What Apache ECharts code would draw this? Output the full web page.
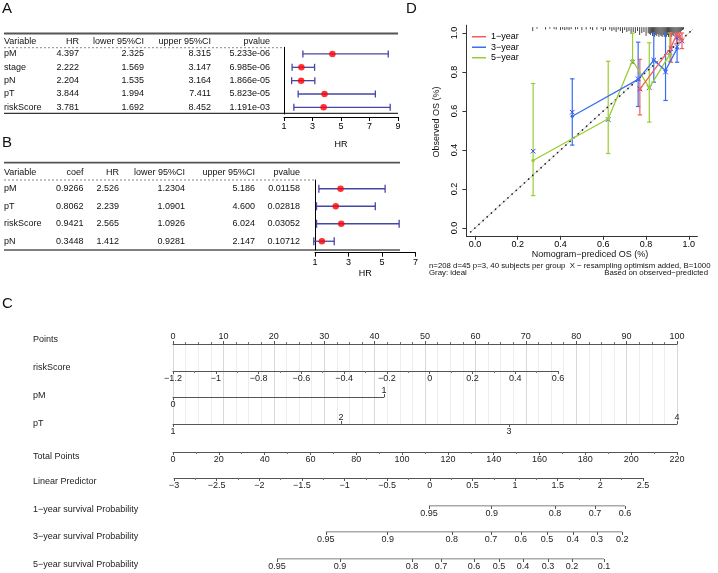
<!DOCTYPE html>
<html><head><meta charset="utf-8">
<script src="https://cdn.jsdelivr.net/npm/echarts@6.0.0/dist/echarts.min.js"></script>
<style>html,body{margin:0;padding:0;background:#fff;}#c{width:718px;height:573px;}</style>
</head><body><div id="c"></div>
<script>
// ===== Panel A : univariate Cox =====
const varsA = ['pM','stage','pN','pT','riskScore'];
const hrA = [4.397,2.222,2.204,3.844,3.781];
const lowerA = [2.325,1.569,1.535,1.994,1.692];
const upperA = [8.315,3.147,3.164,7.411,8.452];
const pvalA = ['5.233e-06','6.985e-06','1.866e-05','5.823e-05','1.191e-03'];
const hrTicksA = [1,3,5,7,9];
// ===== Panel B : multivariate Cox =====
const varsB = ['pM','pT','riskScore','pN'];
const coefB = [0.9266,0.8062,0.9421,0.3448];
const hrB = [2.526,2.239,2.565,1.412];
const lowerB = [1.2304,1.0901,1.0926,0.9281];
const upperB = [5.186,4.600,6.024,2.147];
const pvalB = [0.01158,0.02818,0.03052,0.10712];
const hrTicksB = [1,3,5,7];
// ===== Panel C : nomogram =====
const nomoRows = ['Points','riskScore','pM','pT','Total Points','Linear Predictor',
  '1\u2212year survival Probability','3\u2212year survival Probability','5\u2212year survival Probability'];
const pointsRange = [0,100];
const riskScoreRange = [-1.2,0.6];
const pMBelow = [0], pMAbove = [1];
const pTBelow = [1,3], pTAbove = [2,4];
const totalPointsRange = [0,220];
const lpRange = [-3,2.5];
const surv1Labels = [0.95,0.9,0.8,0.7,0.6];
const surv1Pos = [111.7,139.1,166.7,184.2,197.3];          // in total points
const surv3Labels = [0.95,0.9,0.8,0.7,0.6,0.5,0.4,0.3,0.2];
const surv3Pos = [66.7,93.7,121.7,138.8,151.8,163.3,174.5,185.0,196.1];
const surv5Labels = [0.95,0.9,0.8,0.7,0.6,0.5,0.4,0.3,0.2,0.1];
const surv5Pos = [45.4,72.9,104.3,117.0,131.4,142.3,152.8,163.7,174.2,188.1];
// ===== Panel D : calibration =====
const calTicks = [0,0.2,0.4,0.6,0.8,1.0];
const idealLine = [[-0.02,-0.02],[1.02,1.02]];
const pred1 = [0.771,0.916,0.942,0.955,0.968];
const obs1  = [0.712,0.925,0.990,0.985,0.965];
const lo1   = [0.580,0.850,0.945,0.950,0.920];
const up1   = [0.865,1.000,1.000,1.000,1.000];
const cor1  = [0.713,0.920,0.975,0.980,0.960];
const pred3 = [0.455,0.763,0.836,0.891,0.945];
const obs3  = [0.573,0.762,0.860,0.808,0.920];
const lo3   = [0.425,0.623,0.748,0.654,0.850];
const up3   = [0.765,0.953,1.000,1.000,1.000];
const cor3  = [0.594,0.765,0.861,0.800,0.930];
const pred5 = [0.272,0.623,0.737,0.815,0.911];
const obs5  = [0.346,0.560,0.859,0.719,0.890];
const lo5   = [0.166,0.382,0.845,0.543,0.855];
const up5   = [0.741,0.855,1.000,0.950,1.000];
const cor5  = [0.394,0.556,0.850,0.720,0.900];
const rugTop = 1.03;
const rugSpikes = [[0.27,0.020],[0.29,0.008],[0.33,0.012],[0.35,0.008],[0.37,0.010],[0.38,0.012],[0.40,0.015],
 [0.41,0.012],[0.42,0.015],[0.43,0.012],[0.44,0.015],[0.45,0.010],[0.47,0.012],[0.48,0.010],[0.50,0.015],
 [0.52,0.012],[0.54,0.010],[0.55,0.015],[0.57,0.012],[0.59,0.010],[0.60,0.020],[0.61,0.015],[0.63,0.012],
 [0.64,0.020],[0.65,0.015],[0.66,0.025],[0.67,0.012],[0.68,0.020],[0.69,0.030],[0.70,0.015],[0.71,0.025],
 [0.72,0.020],[0.73,0.035],[0.74,0.025],[0.75,0.030],[0.76,0.020],[0.77,0.040],[0.78,0.030],[0.79,0.025],
 [0.80,0.045],[0.81,0.030],[0.815,0.035],[0.82,0.040],[0.825,0.030],[0.83,0.045],[0.835,0.035],[0.84,0.050],
 [0.845,0.040],[0.85,0.045],[0.855,0.035],[0.86,0.050],[0.865,0.040],[0.87,0.045],[0.875,0.050],[0.88,0.040],
 [0.885,0.050],[0.89,0.045],[0.895,0.050],[0.90,0.040],[0.905,0.050],[0.91,0.045],[0.915,0.035],[0.92,0.050],
 [0.925,0.040],[0.93,0.045],[0.935,0.030],[0.94,0.040],[0.945,0.035],[0.95,0.030],[0.955,0.025],[0.96,0.030],
 [0.965,0.020],[0.97,0.015],[0.975,0.012]];

const FONT = '"Liberation Sans", Arial, Helvetica, sans-serif';
const RED='#f0605a', BLUE='#3a6ef2', GREEN='#9acd32', XBLUE='#3344ee', CI='#4646a8';

const chart = echarts.init(document.getElementById('c'));

// ---------- graphics (tables, labels) ----------
const G = [];
function txt(x,y,s,o){ o=o||{}; G.push({type:'text', x:x, y:y, rotation:o.rot||0, silent:true,
  style:{text:s, fontSize:o.size||9, fontFamily:FONT, fill:o.color||'#111',
    textAlign:o.align||'left', align:o.align||'left', textVerticalAlign:'middle', verticalAlign:'middle'}}); }
function hl(x1,x2,y,o){ o=o||{}; G.push({type:'line', silent:true, shape:{x1:x1,y1:y,x2:x2,y2:y},
  style:{stroke:o.color||'#000', lineWidth:o.w||1, lineDash:o.dash||null}}); }

// panel letters
txt(2,9,'A',{size:15}); txt(2,143,'B',{size:15}); txt(2,304,'C',{size:15}); txt(406,9,'D',{size:15});

// table A
hl(4,398,33.5,{color:'#555',w:1.8});
hl(4,284,47.7,{color:'#888',dash:[2,2]});
hl(4,398,113.3,{color:'#000',w:1});
const colA = [79,144,211,270];
txt(4,41.7,'Variable'); txt(colA[0],41.7,'HR',{align:'right'});
txt(colA[1],41.7,'lower 95%CI',{align:'right'}); txt(colA[2],41.7,'upper 95%CI',{align:'right'});
txt(colA[3],41.7,'pvalue',{align:'right'});
varsA.forEach((v,i)=>{ const y=54+13.33*i;
  txt(4,y,v); txt(colA[0],y,hrA[i].toFixed(3),{align:'right'});
  txt(colA[1],y,lowerA[i].toFixed(3),{align:'right'}); txt(colA[2],y,upperA[i].toFixed(3),{align:'right'});
  txt(colA[3],y,pvalA[i],{align:'right'}); });

// table B
hl(4,400,162.7,{color:'#555',w:1.8});
hl(4,315,180,{color:'#888',dash:[2,2]});
hl(4,400,250,{color:'#000',w:1});
const colB = [83.5,119,185,255,300];
txt(4,172.3,'Variable'); txt(colB[0],172.3,'coef',{align:'right'}); txt(colB[1],172.3,'HR',{align:'right'});
txt(colB[2],172.3,'lower 95%CI',{align:'right'}); txt(colB[3],172.3,'upper 95%CI',{align:'right'});
txt(colB[4],172.3,'pvalue',{align:'right'});
varsB.forEach((v,i)=>{ const y=188.75+17.5*i;
  txt(4,y,v); txt(colB[0],y,coefB[i].toFixed(4),{align:'right'}); txt(colB[1],y,hrB[i].toFixed(3),{align:'right'});
  txt(colB[2],y,lowerB[i].toFixed(4),{align:'right'}); txt(colB[3],y,upperB[i].toFixed(3),{align:'right'});
  txt(colB[4],y,pvalB[i].toFixed(5),{align:'right'}); });

// nomogram row labels
const rowLabelY = [340,368,396,424,457,482,510,537,565];
nomoRows.forEach((r,i)=>txt(33,rowLabelY[i],r,{color:'#222'}));

// calibration texts
txt(437,122,'Observed OS (%)',{rot:Math.PI/2,align:'center'});
txt(590,255,'Nomogram\u2212prediced OS (%)',{align:'center'});
txt(429,266,'n=208 d=45 p=3, 40 subjects per group  X \u2212 resampling optimism added, B=1000',{size:7.8});
txt(429,272.5,'Gray: ideal',{size:7.8});
txt(708,272.5,'Based on observed\u2212predicted',{size:7.8,align:'right'});

// ---------- helpers ----------
const fmtNum = v => { const a = parseFloat(Math.abs(v).toFixed(3)); return (v < -1e-9 ? '\u2212' : '') + String(a); };
function lookupFmt(pos, labels){ return function(v){ let k=0, d=1e9; pos.forEach((p,i)=>{ if(Math.abs(p-v)<d){d=Math.abs(p-v);k=i;} }); return String(labels[k]); }; }
function ciRender(color, cap){ return function(p, api){
  const y=api.value(2), a=api.coord([api.value(0),y]), b=api.coord([api.value(1),y]);
  const s={stroke:color,lineWidth:1.3};
  return {type:'group',children:[
    {type:'line',shape:{x1:a[0],y1:a[1],x2:b[0],y2:b[1]},style:s},
    {type:'line',shape:{x1:a[0],y1:a[1]-cap,x2:a[0],y2:a[1]+cap},style:s},
    {type:'line',shape:{x1:b[0],y1:b[1]-cap,x2:b[0],y2:b[1]+cap},style:s}]}; }; }
function ebRender(color){ return function(p, api){
  const x=api.value(0), a=api.coord([x,api.value(1)]), b=api.coord([x,api.value(2)]);
  const s={stroke:color,lineWidth:1.2}, c=2.2;
  return {type:'group',children:[
    {type:'line',shape:{x1:a[0],y1:a[1],x2:b[0],y2:b[1]},style:s},
    {type:'line',shape:{x1:a[0]-c,y1:a[1],x2:a[0]+c,y2:a[1]},style:s},
    {type:'line',shape:{x1:b[0]-c,y1:b[1],x2:b[0]+c,y2:b[1]},style:s}]}; }; }
function xRender(p, api){
  const c=api.coord([api.value(0),api.value(1)]), r=2.3, s={stroke:XBLUE,lineWidth:1};
  return {type:'group',children:[
    {type:'line',shape:{x1:c[0]-r,y1:c[1]-r,x2:c[0]+r,y2:c[1]+r},style:s},
    {type:'line',shape:{x1:c[0]-r,y1:c[1]+r,x2:c[0]+r,y2:c[1]-r},style:s}]}; }
function rugRender(p, api){
  const a=api.coord([api.value(0),rugTop]), b=api.coord([api.value(0),rugTop-api.value(1)]);
  return {type:'line',shape:{x1:a[0],y1:a[1],x2:b[0],y2:b[1]},style:{stroke:'#444',lineWidth:1}}; }
const zip = (a,b) => a.map((v,i)=>[v,b[i]]);
const zip3 = (a,b,c) => a.map((v,i)=>[v,b[i],c[i]]);

// ---------- grids ----------
const gridDefs = [
 [284,47.3,114,66.7],     // 0 forest A
 [315,180,100.5,70],      // 1 forest B
 [466.4,25.2,231,210.6],  // 2 calibration
 [173,344,504,80],        // 3 points + grid lines
 [173,370,385,1],         // 4 riskScore
 [173,396,211,1],         // 5 pM
 [173,423,504,1],         // 6 pT
 [173,451,504,1],         // 7 total points
 [174,477,469,1],         // 8 linear predictor
 [173,505,504,1],         // 9 1-year
 [173,531,504,1],         // 10 3-year
 [173,558,504,1]          // 11 5-year
];
const grid = gridDefs.map(g=>({left:g[0],top:g[1],width:g[2],height:g[3],containLabel:false,outerBoundsMode:'none'}));

const blk = {color:'#000'};
const nLine = {show:true,onZero:false,lineStyle:{color:'#555',width:1}};
const nTick = {show:true,length:3,lineStyle:{color:'#555'}};
const nLab = {fontSize:9,color:'#222',margin:3,fontFamily:FONT};
const off = {show:false};

const xAxis = [
 {gridIndex:0,type:'value',min:1,max:9,offset:3,axisLine:{show:true,onZero:false,lineStyle:blk},
  axisTick:{show:true,length:4,customValues:hrTicksA,lineStyle:blk},
  axisLabel:{customValues:hrTicksA,fontSize:9,color:'#000',margin:5},splitLine:off,
  name:'HR',nameLocation:'middle',nameGap:23,nameTextStyle:{fontSize:9,color:'#000'}},
 {gridIndex:1,type:'value',min:1,max:7,offset:2.7,axisLine:{show:true,onZero:false,lineStyle:blk},
  axisTick:{show:true,length:4,customValues:hrTicksB,lineStyle:blk},
  axisLabel:{customValues:hrTicksB,fontSize:9,color:'#000',margin:5},splitLine:off,
  name:'HR',nameLocation:'middle',nameGap:16,nameTextStyle:{fontSize:9,color:'#000'}},
 {gridIndex:2,type:'value',min:-0.04,max:1.04,axisLine:{show:true,onZero:false,lineStyle:{color:'#333'}},
  axisTick:{show:true,length:4,customValues:calTicks,lineStyle:{color:'#333'}},
  axisLabel:{customValues:calTicks,formatter:v=>v.toFixed(1),fontSize:9,color:'#000',margin:4},splitLine:off},
 {gridIndex:3,type:'value',position:'top',min:pointsRange[0],max:pointsRange[1],interval:10,
  axisLine:nLine,axisTick:nTick,minorTick:{show:true,splitNumber:4,length:2,lineStyle:{color:'#777'}},
  axisLabel:nLab,splitLine:{show:true,lineStyle:{color:'#d8d8d8',width:1}},
  minorSplitLine:{show:true,lineStyle:{color:'#ededed',width:1}}},
 {gridIndex:4,type:'value',min:riskScoreRange[0],max:riskScoreRange[1],interval:0.2,
  axisLine:nLine,axisTick:nTick,minorTick:{show:true,splitNumber:2,length:2,lineStyle:{color:'#777'}},
  axisLabel:Object.assign({formatter:fmtNum},nLab),splitLine:off},
 {gridIndex:5,type:'value',min:0,max:1,axisLine:nLine,axisTick:Object.assign({customValues:pMBelow},nTick),
  axisLabel:Object.assign({customValues:pMBelow},nLab),splitLine:off},
 {gridIndex:5,type:'value',position:'top',min:0,max:1,axisLine:off,axisTick:Object.assign({customValues:pMAbove},nTick),
  axisLabel:Object.assign({},nLab,{customValues:pMAbove,margin:1}),splitLine:off},
 {gridIndex:6,type:'value',min:1,max:4,axisLine:nLine,axisTick:Object.assign({customValues:pTBelow},nTick),
  axisLabel:Object.assign({customValues:pTBelow},nLab),splitLine:off},
 {gridIndex:6,type:'value',position:'top',min:1,max:4,axisLine:off,axisTick:Object.assign({customValues:pTAbove},nTick),
  axisLabel:Object.assign({},nLab,{customValues:pTAbove,margin:1}),splitLine:off},
 {gridIndex:7,type:'value',min:totalPointsRange[0],max:totalPointsRange[1],interval:20,
  axisLine:nLine,axisTick:nTick,minorTick:{show:true,splitNumber:2,length:2,lineStyle:{color:'#777'}},
  axisLabel:nLab,splitLine:off},
 {gridIndex:8,type:'value',min:lpRange[0],max:lpRange[1],interval:0.5,
  axisLine:nLine,axisTick:nTick,minorTick:{show:true,splitNumber:2,length:2,lineStyle:{color:'#777'}},
  axisLabel:Object.assign({formatter:fmtNum},nLab),splitLine:off},
 {gridIndex:9,type:'value',min:totalPointsRange[0],max:totalPointsRange[1],axisLine:off,
  axisTick:Object.assign({customValues:surv1Pos},nTick),
  axisLabel:Object.assign({customValues:surv1Pos,formatter:lookupFmt(surv1Pos,surv1Labels)},nLab),splitLine:off},
 {gridIndex:10,type:'value',min:totalPointsRange[0],max:totalPointsRange[1],axisLine:off,
  axisTick:Object.assign({customValues:surv3Pos},nTick),
  axisLabel:Object.assign({customValues:surv3Pos,formatter:lookupFmt(surv3Pos,surv3Labels)},nLab),splitLine:off},
 {gridIndex:11,type:'value',min:totalPointsRange[0],max:totalPointsRange[1],axisLine:off,
  axisTick:Object.assign({customValues:surv5Pos},nTick),
  axisLabel:Object.assign({customValues:surv5Pos,formatter:lookupFmt(surv5Pos,surv5Labels)},nLab),splitLine:off}
];

const yAxis = gridDefs.map((g,i)=>({gridIndex:i,type:'value',min:0,max:1,show:false}));
yAxis[0] = {gridIndex:0,type:'value',min:-0.5,max:varsA.length-0.5,inverse:true,
  axisLine:{show:true,onZero:false,lineStyle:blk},axisTick:off,axisLabel:off,splitLine:off};
yAxis[1] = {gridIndex:1,type:'value',min:-0.5,max:varsB.length-0.5,inverse:true,
  axisLine:{show:true,onZero:false,lineStyle:blk},axisTick:off,axisLabel:off,splitLine:off};
yAxis[2] = {gridIndex:2,type:'value',min:-0.04,max:1.04,
  axisLine:{show:true,onZero:false,lineStyle:{color:'#333'}},
  axisTick:{show:true,length:4,customValues:calTicks,lineStyle:{color:'#333'}},
  axisLabel:{customValues:calTicks,formatter:v=>v.toFixed(1),rotate:90,fontSize:9,color:'#000',margin:7},splitLine:off};

// ---------- series ----------
const series = [];
// forest A/B
series.push({type:'custom',xAxisIndex:0,yAxisIndex:0,renderItem:ciRender(CI,3.5),encode:{x:[0,1],y:2},
  data:lowerA.map((l,i)=>[l,upperA[i],i]),silent:true});
series.push({type:'scatter',xAxisIndex:0,yAxisIndex:0,symbol:'circle',symbolSize:6.5,itemStyle:{color:'#ff0000'},
  data:hrA.map((h,i)=>[h,i]),silent:true});
series.push({type:'custom',xAxisIndex:1,yAxisIndex:1,renderItem:ciRender(CI,4),encode:{x:[0,1],y:2},
  data:lowerB.map((l,i)=>[l,upperB[i],i]),silent:true});
series.push({type:'scatter',xAxisIndex:1,yAxisIndex:1,symbol:'circle',symbolSize:6.5,itemStyle:{color:'#ff0000'},
  data:hrB.map((h,i)=>[h,i]),silent:true});
// calibration
series.push({type:'line',xAxisIndex:2,yAxisIndex:2,data:idealLine,symbol:'none',lineStyle:{color:'#c8c8c8',width:1},silent:true});
series.push({type:'line',xAxisIndex:2,yAxisIndex:2,data:idealLine,symbol:'none',
  lineStyle:{color:'#222',width:1.7,type:[0.1,5.5],cap:'round'},silent:true});
series.push({type:'custom',xAxisIndex:2,yAxisIndex:2,renderItem:rugRender,encode:{x:0,y:1},data:rugSpikes,silent:true});
const periods = [['1\u2212year',RED,pred1,obs1,lo1,up1,cor1],['3\u2212year',BLUE,pred3,obs3,lo3,up3,cor3],['5\u2212year',GREEN,pred5,obs5,lo5,up5,cor5]];
periods.slice().reverse().forEach(p=>{
  series.push({type:'custom',xAxisIndex:2,yAxisIndex:2,renderItem:ebRender(p[1]),encode:{x:0,y:[1,2]},
    data:zip3(p[2],p[4],p[5]),silent:true});
});
periods.slice().reverse().forEach(p=>{
  series.push({type:'line',name:p[0],xAxisIndex:2,yAxisIndex:2,data:zip(p[2],p[3]),color:p[1],
    symbol:'circle',symbolSize:3.5,showSymbol:true,itemStyle:{color:p[1]},lineStyle:{color:p[1],width:1.3},silent:true});
});
periods.forEach(p=>{
  series.push({type:'custom',xAxisIndex:2,yAxisIndex:2,renderItem:xRender,encode:{x:0,y:1},data:zip(p[2],p[6]),silent:true});
});
// nomogram probability scale lines
[[11,9,surv1Pos],[12,10,surv3Pos],[13,11,surv5Pos]].forEach(r=>{
  const pos=r[2];
  series.push({type:'line',xAxisIndex:r[0],yAxisIndex:r[1],symbol:'none',lineStyle:{color:'#555',width:1},
    data:[[pos[0],0],[pos[pos.length-1],0]],silent:true});
});

chart.setOption({
  animation:false,
  textStyle:{fontFamily:FONT},
  grid:grid, xAxis:xAxis, yAxis:yAxis, series:series,
  legend:{data:periods.map(p=>p[0]),left:472,top:32,orient:'vertical',icon:'rect',itemWidth:14,itemHeight:1.5,
    itemGap:1,padding:0,selectedMode:false,textStyle:{fontSize:9,color:'#000',lineHeight:9.5,fontFamily:FONT}},
  graphic:{elements:G}
});
</script></body></html>
